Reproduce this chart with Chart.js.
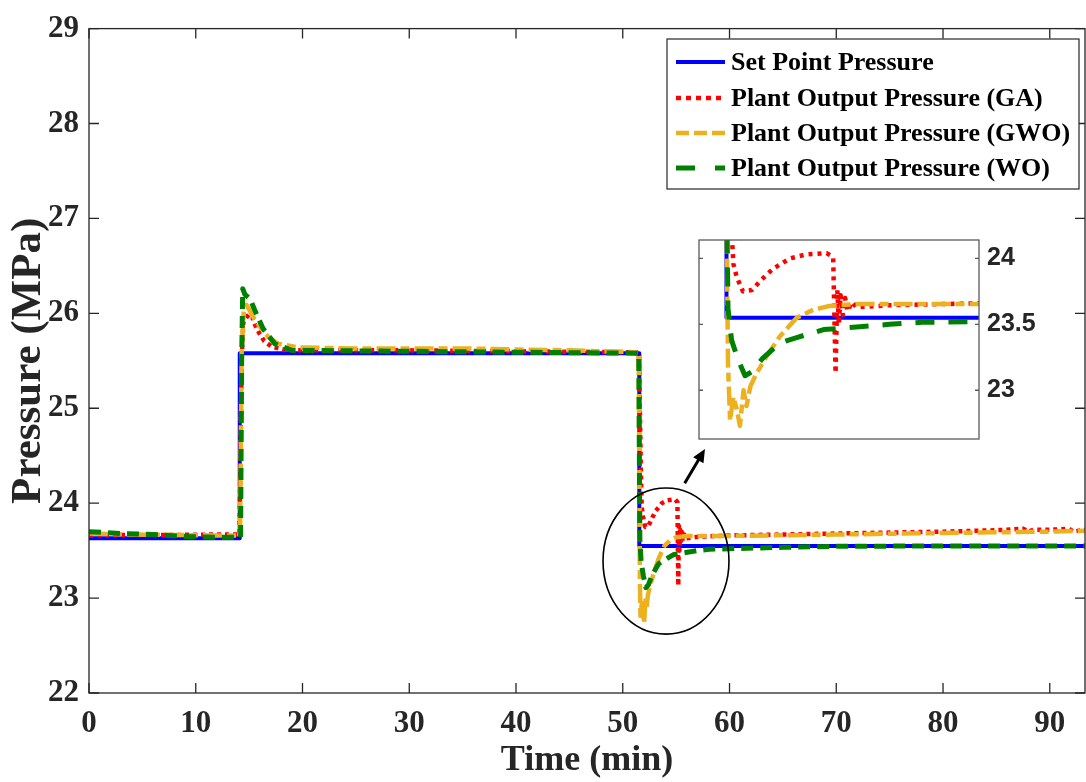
<!DOCTYPE html>
<html><head><meta charset="utf-8">
<script src="https://cdn.jsdelivr.net/npm/chart.js@4.4.1/dist/chart.umd.min.js"></script>
<style>
html,body{margin:0;padding:0;background:#fff;}
#wrap{position:relative;width:1086px;height:782px;}
canvas{position:absolute;left:0;top:0;}
</style></head><body>
<div id="wrap"><canvas id="main" width="1086" height="782"></canvas><canvas id="inset" width="1086" height="782"></canvas></div>
<script>
// ---------- data ----------
const xTicks = [0, 10, 20, 30, 40, 50, 60, 70, 80, 90];
const xTickLabels = ['0','10','20','30','40','50','60','70','80','90'];
const yTicks = [22, 23, 24, 25, 26, 27, 28, 29];
const yTickLabels = ['22','23','24','25','26','27','28','29'];
const insetTicks = [23, 23.5, 24];
const insetTickLabels = ['23','23.5','24'];

const setTime = [0, 14.12, 14.12, 51.55, 51.55, 93.3];
const setPressure = [23.63, 23.63, 25.58, 25.58, 23.55, 23.55];

const gaTime = [0, 4, 8, 12, 14.1, 14.3, 14.45, 14.7, 15.0, 15.3, 15.55, 15.95, 16.4, 17.1, 18.5, 21, 30, 40, 51.5, 51.6, 51.7, 51.78, 51.89, 52.1, 52.4, 52.73, 53.1, 53.67, 54.2, 54.9, 55.12, 55.2, 55.26, 55.31, 55.37, 55.44, 55.52, 55.6, 55.75, 55.9, 57, 60, 65, 70, 75, 80, 85, 87.5, 88, 88.5, 90, 91.8, 92.2, 93.3];
const gaPressure = [23.66, 23.665, 23.665, 23.67, 23.67, 25.5, 25.9, 25.95, 25.99, 25.96, 25.88, 25.79, 25.71, 25.65, 25.61, 25.61, 25.61, 25.60, 25.59, 25.0, 24.3, 23.96, 23.86, 23.75, 23.76, 23.84, 23.92, 24.0, 24.03, 24.04, 24.01, 23.13, 23.76, 23.5, 23.72, 23.57, 23.7, 23.6, 23.67, 23.63, 23.645, 23.66, 23.67, 23.68, 23.69, 23.70, 23.715, 23.73, 23.70, 23.72, 23.72, 23.73, 23.70, 23.72];

const gwoTime = [0, 4, 8, 12, 14.15, 14.3, 14.5, 14.75, 15.1, 15.5, 16.0, 16.8, 17.7, 19.7, 25, 35, 45, 51.5, 51.6, 51.67, 51.78, 51.9, 52.0, 52.12, 52.22, 52.35, 52.56, 52.9, 53.34, 53.9, 54.45, 55.0, 56, 60, 70, 80, 90, 93.3];
const gwoPressure = [23.68, 23.67, 23.665, 23.66, 23.66, 25.6, 26.02, 26.09, 26.02, 25.94, 25.86, 25.75, 25.68, 25.64, 25.63, 25.63, 25.61, 25.59, 23.2, 22.77, 22.95, 22.85, 22.73, 23.0, 22.88, 23.03, 23.13, 23.26, 23.41, 23.55, 23.61, 23.64, 23.655, 23.655, 23.67, 23.685, 23.70, 23.71];

const woTime = [0, 3, 6, 9, 12, 14.2, 14.3, 14.4, 14.6, 15.1, 15.5, 16.3, 17.4, 19.0, 30, 40, 51.5, 51.6, 51.72, 51.94, 52.17, 52.4, 52.75, 53.34, 53.9, 54.8, 55.9, 57.0, 58.1, 60, 65, 70, 80, 93.3];
const woPressure = [23.70, 23.68, 23.67, 23.65, 23.64, 23.64, 25.5, 26.26, 26.2, 26.15, 26.04, 25.84, 25.68, 25.61, 25.60, 25.59, 25.58, 23.62, 23.38, 23.23, 23.11, 23.14, 23.24, 23.36, 23.40, 23.46, 23.48, 23.50, 23.515, 23.52, 23.535, 23.545, 23.55, 23.55];

// ---------- styling ----------
const serif = "'Liberation Serif','Times New Roman',serif";
const sans = "'Liberation Sans',Arial,sans-serif";
const AXIS = '#262626';

const series = [
  {label:'Set Point Pressure', t:setTime, v:setPressure, color:'#0000FF', width:4, dash:[], insetDash:[], legendDash:[], order:4},
  {label:'Plant Output Pressure (GA)', t:gaTime, v:gaPressure, color:'#FF0000', width:4.5, dash:[4,4], insetDash:[4,5], legendDash:[5,5], order:3},
  {label:'Plant Output Pressure (GWO)', t:gwoTime, v:gwoPressure, color:'#EDB120', width:4.5, dash:[19,5,9,5], insetDash:[19,5,9,5], legendDash:[13,5], order:2},
  {label:'Plant Output Pressure (WO)', t:woTime, v:woPressure, color:'#008000', width:5, dash:[12,7], insetDash:[19,14], legendDash:[19,20], order:1}
];
function pts(t, v){ return t.map((x,i)=>({x:x, y:v[i]})); }
function makeDatasets(inset){
  return series.map(s=>({
    label:s.label, data:pts(s.t,s.v), borderColor:s.color, borderWidth:s.width,
    borderDash: inset ? s.insetDash : s.dash, order:s.order, pointRadius:0, tension:0,
    fill:false, borderCapStyle:'butt', borderJoinStyle:'round', clip:0
  }));
}

// annotation (zoom circle and arrow) in data units
const zoomCircle = {t:54.05, p:23.39, rt:5.9, rp:0.77};
const zoomArrow = {t0:55.8, p0:24.21, t1:57.7, p1:24.57};

const boxPlugin = {id:'box', afterDraw(c){
  const {ctx, chartArea:a, scales:{x,y}} = c;
  ctx.save(); ctx.strokeStyle=AXIS; ctx.lineWidth=1.3;
  ctx.strokeRect(a.left,a.top,a.right-a.left,a.bottom-a.top);
  ctx.beginPath();
  x.ticks.forEach(t=>{const px=x.getPixelForValue(t.value);
    ctx.moveTo(px,a.bottom); ctx.lineTo(px,a.bottom-10); ctx.moveTo(px,a.top); ctx.lineTo(px,a.top+10);});
  y.ticks.forEach(t=>{const py=y.getPixelForValue(t.value);
    ctx.moveTo(a.left,py); ctx.lineTo(a.left+10,py); ctx.moveTo(a.right,py); ctx.lineTo(a.right-10,py);});
  ctx.stroke(); ctx.restore();
}};

const annotPlugin = {id:'annot', afterDraw(c){
  const {ctx, scales:{x,y}} = c;
  ctx.save(); ctx.strokeStyle='#000'; ctx.fillStyle='#000'; ctx.lineWidth=1.6;
  const cx=x.getPixelForValue(zoomCircle.t), cy=y.getPixelForValue(zoomCircle.p);
  const rx=x.getPixelForValue(zoomCircle.t+zoomCircle.rt)-cx, ry=cy-y.getPixelForValue(zoomCircle.p+zoomCircle.rp);
  ctx.beginPath(); ctx.ellipse(cx,cy,rx,ry,0,0,Math.PI*2); ctx.stroke();
  const x0=x.getPixelForValue(zoomArrow.t0), y0=y.getPixelForValue(zoomArrow.p0);
  const x1=x.getPixelForValue(zoomArrow.t1), y1=y.getPixelForValue(zoomArrow.p1);
  const ang=Math.atan2(y1-y0,x1-x0), hl=13, hw=6;
  ctx.lineWidth=3;
  ctx.beginPath(); ctx.moveTo(x0,y0); ctx.lineTo(x1-Math.cos(ang)*hl*0.8,y1-Math.sin(ang)*hl*0.8); ctx.stroke();
  ctx.beginPath(); ctx.moveTo(x1,y1);
  ctx.lineTo(x1-Math.cos(ang)*hl+Math.sin(ang)*hw, y1-Math.sin(ang)*hl-Math.cos(ang)*hw);
  ctx.lineTo(x1-Math.cos(ang)*hl-Math.sin(ang)*hw, y1-Math.sin(ang)*hl+Math.cos(ang)*hw);
  ctx.closePath(); ctx.fill();
  ctx.restore();
}};

const legendPlugin = {id:'mlegend', afterDraw(c){
  const ctx=c.ctx; ctx.save();
  const L=667, T=39, R=1079, B=189;
  ctx.fillStyle='#fff'; ctx.fillRect(L,T,R-L,B-T);
  ctx.strokeStyle=AXIS; ctx.lineWidth=1.2; ctx.strokeRect(L,T,R-L,B-T);
  const rows=[62,98,133,168];
  ctx.font='bold 26px '+serif; ctx.textBaseline='middle'; ctx.textAlign='left';
  series.forEach((s,i)=>{
    const yy=rows[i];
    ctx.strokeStyle=s.color; ctx.lineWidth=s.width; ctx.setLineDash(s.legendDash); ctx.lineCap='butt';
    ctx.beginPath(); ctx.moveTo(676,yy); ctx.lineTo(725,yy); ctx.stroke();
    ctx.setLineDash([]); ctx.fillStyle='#000'; ctx.fillText(s.label,731,yy+1);
  });
  ctx.restore();
}};

new Chart(document.getElementById('main'), {
  type:'line',
  data:{datasets: makeDatasets(false)},
  options:{
    responsive:false, animation:false, devicePixelRatio:1,
    layout:{padding:{top:26,right:1,left:0,bottom:0}},
    plugins:{legend:{display:false}, tooltip:{enabled:false}},
    scales:{
      x:{type:'linear', min:0, max:93.3,
        afterBuildTicks:s=>{s.ticks=xTicks.map(v=>({value:v}));},
        afterFit:s=>{s.height=89;},
        grid:{display:false, drawTicks:false}, border:{display:false},
        ticks:{font:{family:serif,size:31,weight:'bold'}, color:AXIS, padding:12, maxRotation:0, autoSkip:false,
          callback:(v,i)=>xTickLabels[i]},
        title:{display:true, text:'Time (min)', font:{family:serif,size:36,weight:'bold',lineHeight:1}, color:AXIS, padding:{top:0,bottom:3}}},
      y:{type:'linear', min:22, max:29,
        afterBuildTicks:s=>{s.ticks=yTicks.map(v=>({value:v}));},
        afterFit:s=>{s.width=89;},
        grid:{display:false, drawTicks:false}, border:{display:false},
        ticks:{font:{family:serif,size:31,weight:'bold'}, color:AXIS, padding:10, autoSkip:false,
          callback:(v,i)=>yTickLabels[i]},
        title:{display:true, text:'Pressure (MPa)', font:{family:serif,size:43,weight:'bold',lineHeight:1}, color:AXIS, padding:{top:7,bottom:0}}}
    }
  },
  plugins:[boxPlugin, annotPlugin, legendPlugin]
});

const insetBg = {id:'insetBg', beforeDraw(c){
  const {ctx, chartArea:a}=c; ctx.save(); ctx.fillStyle='#fff'; ctx.fillRect(a.left,a.top,a.right-a.left,a.bottom-a.top); ctx.restore();
}};
const insetBox = {id:'insetBox', afterDraw(c){
  const {ctx, chartArea:a, scales:{y}}=c;
  ctx.save(); ctx.strokeStyle='#5a5a5a'; ctx.lineWidth=1.3;
  ctx.strokeRect(a.left,a.top,a.right-a.left,a.bottom-a.top);
  ctx.beginPath();
  y.ticks.forEach(t=>{const py=y.getPixelForValue(t.value);
    ctx.moveTo(a.left,py); ctx.lineTo(a.left+4,py); ctx.moveTo(a.right,py); ctx.lineTo(a.right-4,py);});
  ctx.stroke(); ctx.restore();
}};

new Chart(document.getElementById('inset'), {
  type:'line',
  data:{datasets: makeDatasets(true)},
  options:{
    responsive:false, animation:false, devicePixelRatio:1,
    layout:{padding:{left:699, top:240, right:0, bottom:343}},
    plugins:{legend:{display:false}, tooltip:{enabled:false}},
    events:[],
    scales:{
      x:{type:'linear', min:50.63, max:60, display:false},
      y:{type:'linear', position:'right', min:22.63, max:24.14,
        afterBuildTicks:s=>{s.ticks=insetTicks.map(v=>({value:v}));},
        afterFit:s=>{s.width=107;},
        grid:{display:false, drawTicks:false}, border:{display:false},
        ticks:{font:{family:sans,size:25,weight:'bold'}, color:AXIS, padding:8, autoSkip:false,
          callback:(v,i)=>insetTickLabels[i]}}
    }
  },
  plugins:[insetBg, insetBox]
});
</script>
</body></html>
